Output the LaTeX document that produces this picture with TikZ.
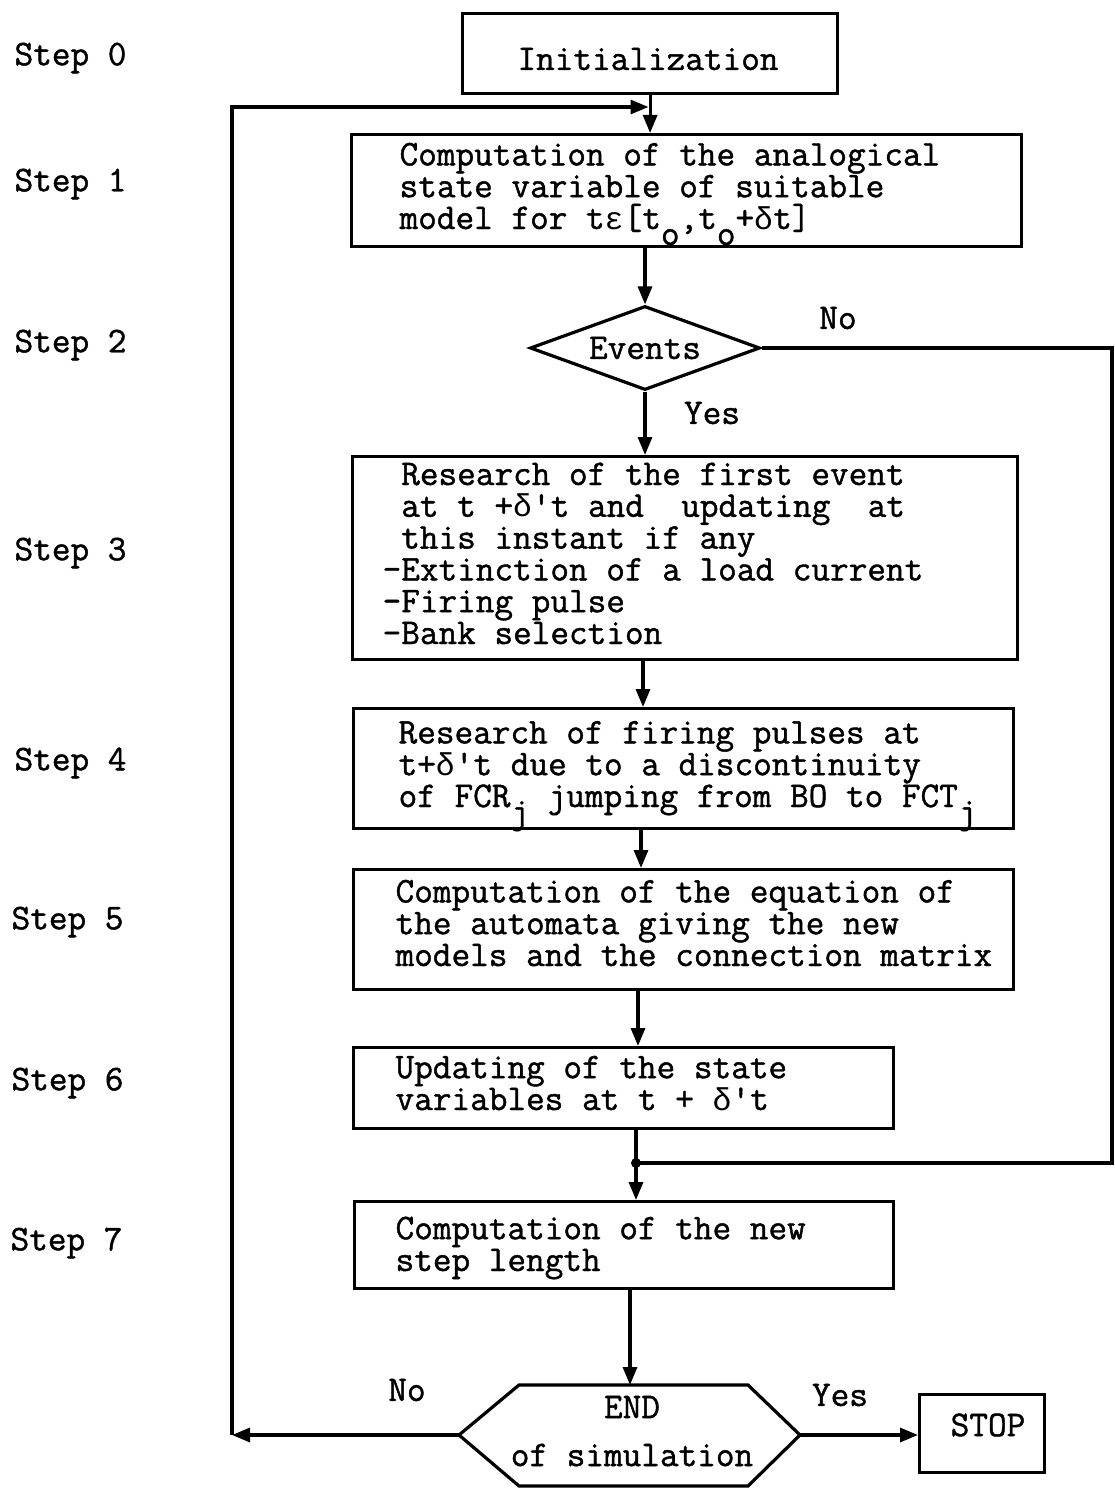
\documentclass[tikz,border=0pt]{standalone}
\usepackage{fontspec}
\newfontfamily\cour[FakeBold=1.2]{Latin Modern Mono}
\newfontfamily\grk{Liberation Mono}
\usetikzlibrary{arrows.meta,shapes.geometric}
\newcommand\lowsub[1]{\raisebox{-16pt}{#1}}
\newcommand\dlt{\makebox[0.525em]{\grk\fontsize{31.5}{31.8}\selectfont δ}}
\newcommand\eps{\makebox[0.525em]{\grk\fontsize{31.5}{31.8}\selectfont ε}}
\begin{document}
\begin{tikzpicture}[x=1pt,y=-1pt,
  line width=3.2pt,
  box/.style={draw,rectangle,inner sep=0pt,anchor=north west},
  txt/.style={font=\cour\fontsize{36.2}{31.8}\selectfont,inner sep=0pt,anchor=base west,align=left},
  lbl/.style={font=\cour\fontsize{36.2}{31.8}\selectfont,inner sep=0pt},
  arr/.style={-{Triangle[length=18pt,width=14pt]}},
]
\useasboundingbox (0,0) rectangle (1115,1490);

% step labels
\node[lbl,anchor=west] (st0) at (13,58) {Step 0};
\node[lbl,anchor=west] (st1) at (13,184) {Step 1};
\node[lbl,anchor=west] (st2) at (13,345) {Step 2};
\node[lbl,anchor=west] (st3) at (13,553) {Step 3};
\node[lbl,anchor=west] (st4) at (13,763) {Step 4};
\node[lbl,anchor=west] (st5) at (10,922) {Step 5};
\node[lbl,anchor=west] (st6) at (10,1083) {Step 6};
\node[lbl,anchor=west] (st7) at (9,1243) {Step 7};

% step 0
\node[box,minimum width=375,minimum height=80] (init) at (461,12) {};
\node[lbl] (initt) at (648,59) {Initialization};

% step 1 (base anchor = last line baseline)
\node[box,minimum width=670,minimum height=112] (s1) at (350,133) {};
\node[txt] (s1t) at (398,229) {Computation of the analogical\\state variable of suitable\\model for t\eps[t\lowsub{o},t\lowsub{o}+\dlt t]};

% step 2
\node[draw,diamond,aspect=2.74,minimum width=230,minimum height=84,lbl] (ev) at (645,348) {Events};

% step 3
\node[box,minimum width=665,minimum height=203] (s3) at (351,455) {};
\node[txt] (s3t) at (381,644) {~Research of the first event\\~at t +\dlt't and~~updating~~at\\~this instant if any\\-Extinction of a load current\\-Firing pulse\\-Bank selection};

% step 4
\node[box,minimum width=660,minimum height=120] (s4) at (352,707) {};
\node[txt] (s4t) at (397,807) {Research of firing pulses at\\t+\dlt't due to a discontinuity\\of FCR\lowsub{j} jumping from BO to FCT\lowsub{j}};

% step 5
\node[box,minimum width=660,minimum height=120] (s5) at (352,868) {};
\node[txt] (s5t) at (394,966) {Computation of the equation of\\the automata giving the new\\models and the connection matrix};

% step 6
\node[box,minimum width=540,minimum height=81] (s6) at (352,1046) {};
\node[txt] (s6t) at (394,1110) {Updating of the state\\variables at t + \dlt't};

% step 7
\node[box,minimum width=539,minimum height=87] (s7) at (353,1200) {};
\node[txt] (s7t) at (394,1271) {Computation of the new\\step length};

% end hexagon
\coordinate (hT1) at (519,1385);
\coordinate (hT2) at (748,1385);
\coordinate (hR) at (800,1435);
\coordinate (hB2) at (748,1486);
\coordinate (hB1) at (519,1486);
\coordinate (hL) at (459,1435);
\draw (hT1) -- (hT2) -- (hR) -- (hB2) -- (hB1) -- (hL) -- cycle;
\node[lbl] (endt) at (632,1407) {END};
\node[lbl] (endt2) at (632,1455) {of simulation};

% stop
\node[box,minimum width=125,minimum height=78] (stop) at (918,1393) {};
\node[lbl] (stopt) at (988,1425) {STOP};

% labels
\node[lbl] (no1) at (838,318) {No};
\node[lbl] (yes1) at (712,413) {Yes};
\node[lbl] (no2) at (407,1390) {No};
\node[lbl] (yes2) at (840,1395) {Yes};

% connectors
\coordinate (jn) at (648.5,107);
\coordinate (lb) at (232,1435);
\coordinate (a34) at (643,0);
\coordinate (a45) at (641,0);
\coordinate (a56) at (638,0);
\coordinate (dot) at (636,1163);
\coordinate (a7) at (630,0);
\coordinate (nr) at (1112,349);

\draw[arr] (init.south) -- (init.south |- s1.north);
\draw[arr] (hL) -- (lb);
\draw[arr] (lb) -- (lb |- jn) -- (jn);
\draw[arr] (ev.north |- s1.south) -- (ev.north);
\draw[arr] (ev.south) -- (ev.south |- s3.north);
\draw[arr] (a34 |- s3.south) -- (a34 |- s4.north);
\draw[arr] (a45 |- s4.south) -- (a45 |- s5.north);
\draw[arr] (a56 |- s5.south) -- (a56 |- s6.north);
\draw (dot |- s6.south) -- (dot);
\draw[arr] (dot) -- (dot |- s7.north);
\draw (ev.east) -- (ev.east -| nr) -- (nr |- dot) -- (dot);
\fill (dot) circle (5);
\draw[arr] (a7 |- s7.south) -- (a7 |- hT1);
\draw[arr] (hR) -- (hR -| stop.west);
\end{tikzpicture}
\end{document}
